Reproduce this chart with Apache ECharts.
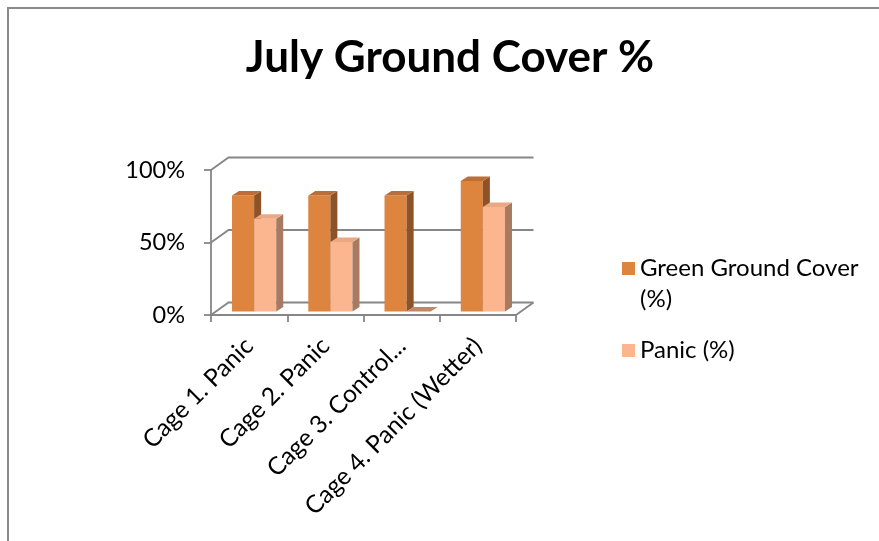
<!DOCTYPE html>
<html><head><meta charset="utf-8">
<script src="https://cdn.jsdelivr.net/npm/echarts@6/dist/echarts.min.js"></script>
<style>html,body{margin:0;padding:0;background:#fff;overflow:hidden}#c{width:879px;height:541px}</style>
</head><body><div id="c"></div>
<script>
const categories = ['Cage 1. Panic', 'Cage 2. Panic', 'Cage 3. Control...', 'Cage 4. Panic (Wetter)'];
const greenCover = [80, 80, 80, 90];
const panic = [64, 48, 0, 72];
const yTicks = [0, 50, 100];
const seriesNames = ['Green Ground Cover (%)', 'Panic (%)'];

const FONT = 'Lato, "Open Sans", sans-serif';
const LINE = '#868686';
// wall depth
const WDX = 17.5, WDY = -12.5;
// bar plane offset and bar depth
const BX = 5, BY = -3.5, DX = 7, DY = -4.5;

const palettes = [
  { front: '#dd843f', top: '#b96f37', side: '#8d5228' },
  { front: '#fbb58f', top: '#eaa884', side: '#a87a61', flat: '#c2876a' }
];

function frameRender(params, api) {
  const cs = params.coordSys;
  const x0 = cs.x, x1 = cs.x + cs.width;
  const children = [];
  yTicks.forEach(function (t) {
    const y = api.coord([0, t])[1];
    children.push({
      type: 'polyline',
      shape: { points: [[x0, y], [x0 + WDX, y + WDY], [x1 + WDX, y + WDY]] },
      style: { stroke: LINE, lineWidth: 1.8, fill: null }
    });
  });
  const y0 = api.coord([0, 0])[1];
  children.push({
    type: 'line',
    shape: { x1: x1, y1: y0, x2: x1 + WDX, y2: y0 + WDY },
    style: { stroke: LINE, lineWidth: 1.8 }
  });
  return { type: 'group', children: children };
}

function barRender(params, api) {
  const si = params.seriesIndex - 1;
  const pal = palettes[si];
  const c = api.value(0), v = api.value(1);
  const base = api.coord([c, 0]);
  const top = api.coord([c, v]);
  const band = api.size([1, 0])[0];
  const w = band * 0.29;
  const l = base[0] + BX + (si === 0 ? -w : 0);
  const r = l + w;
  const yb = base[1] + BY;
  const yt = top[1] + BY;
  const ch = [];
  if (v > 0) {
    ch.push({ type: 'polygon', shape: { points: [[l, yb], [r, yb], [r, yt], [l, yt]] }, style: { fill: pal.front } });
    ch.push({ type: 'polygon', shape: { points: [[r, yb], [r + DX, yb + DY], [r + DX, yt + DY], [r, yt]] }, style: { fill: pal.side } });
    ch.push({ type: 'polygon', shape: { points: [[l, yt], [r, yt], [r + DX, yt + DY], [l + DX, yt + DY]] }, style: { fill: pal.top } });
  } else {
    ch.push({ type: 'polygon', shape: { points: [[l, yt], [r + 2, yt], [r + DX + 2, yt + DY], [l + DX, yt + DY]] }, style: { fill: pal.flat || pal.top } });
  }
  return { type: 'group', children: ch };
}

const chart = echarts.init(document.getElementById('c'), null, { renderer: 'canvas' });
chart.setOption({
  backgroundColor: '#fff',
  animation: false,
  title: {
    text: 'July Ground Cover %',
    left: 445, top: 31, textAlign: 'center',
    textStyle: { fontFamily: FONT, fontWeight: 'bold', fontSize: 44, color: '#000' }
  },
  graphic: [{
    type: 'rect', left: 5.5, top: 5.5, shape: { width: 900, height: 600 },
    style: { fill: null, stroke: '#8a8a8a', lineWidth: 2 }, z: 0
  }],
  legend: {
    orient: 'vertical', left: 617, top: 217, itemWidth: 13, itemHeight: 13, itemGap: 20,
    icon: 'rect',
    formatter: function (name) {
      return name.length > 12 ? '\n' + name.replace(' (%)', '\n(%)') : name;
    },
    textStyle: { fontFamily: FONT, fontSize: 24, color: '#000', lineHeight: 31 },
    data: seriesNames
  },
  grid: { left: 211, top: 170, width: 305, height: 145, containLabel: false, outerBoundsMode: 'none' },
  xAxis: {
    type: 'category', data: categories, boundaryGap: true,
    axisLine: { show: true, lineStyle: { color: LINE, width: 1.8 } },
    axisTick: { show: true, length: 7, alignWithLabel: false, interval: 0, lineStyle: { color: LINE, width: 1.8 } },
    axisLabel: { rotate: 45, interval: 0, margin: 27, fontFamily: FONT, fontSize: 24.5, color: '#000' },
    splitLine: { show: false }
  },
  yAxis: {
    type: 'value', min: 0, max: 100, interval: 50,
    axisLine: { show: true, lineStyle: { color: LINE, width: 1.8 } },
    axisTick: { show: true, length: 7, lineStyle: { color: LINE, width: 1.8 } },
    axisLabel: { formatter: '{value}%', margin: 26, fontFamily: FONT, fontSize: 23.5, color: '#000' },
    splitLine: { show: false }
  },
  series: [
    { type: 'custom', name: '_frame', coordinateSystem: 'cartesian2d', renderItem: frameRender, data: [[0, 0]], z: 1, silent: true, clip: false },
    { type: 'custom', name: seriesNames[0], coordinateSystem: 'cartesian2d', renderItem: barRender, itemStyle: { color: palettes[0].front },
      data: greenCover.map(function (v, i) { return [i, v]; }), z: 2, clip: false, encode: { x: 0, y: 1 } },
    { type: 'custom', name: seriesNames[1], coordinateSystem: 'cartesian2d', renderItem: barRender, itemStyle: { color: palettes[1].front },
      data: panic.map(function (v, i) { return [i, v]; }), z: 3, clip: false, encode: { x: 0, y: 1 } }
  ]
});
</script>
</body></html>
